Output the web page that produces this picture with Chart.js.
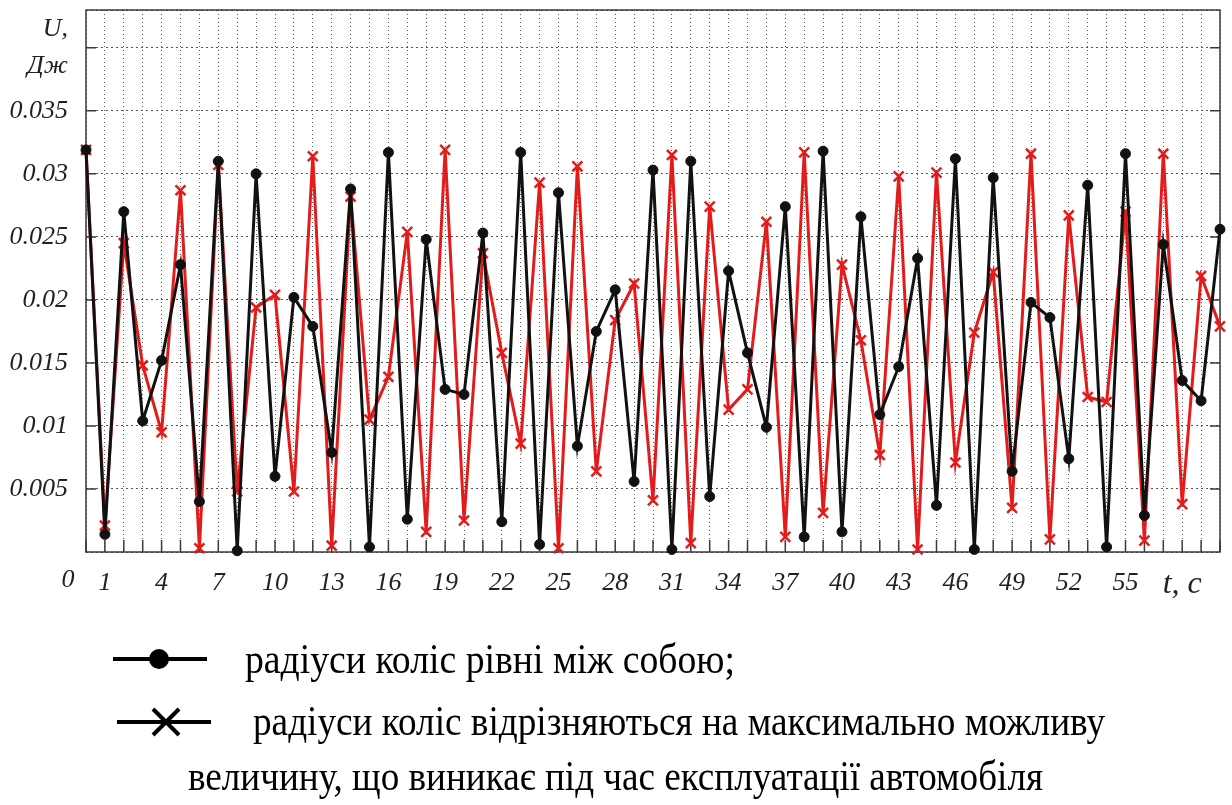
<!DOCTYPE html>
<html>
<head>
<meta charset="utf-8">
<script src="https://cdn.jsdelivr.net/npm/chart.js@4.4.1/dist/chart.umd.min.js"></script>
<style>
  html, body { margin: 0; padding: 0; background: #fff; }
  #wrap { width: 1232px; height: 805px; position: relative; }
</style>
</head>
<body>
<div id="wrap"><canvas id="myChart"></canvas></div>
<script>
// time, s
var times = [0, 1, 2, 3, 4, 5, 6, 7, 8, 9, 10, 11, 12, 13, 14, 15, 16, 17, 18, 19,
  20, 21, 22, 23, 24, 25, 26, 27, 28, 29, 30, 31, 32, 33, 34, 35, 36, 37, 38, 39,
  40, 41, 42, 43, 44, 45, 46, 47, 48, 49, 50, 51, 52, 53, 54, 55, 56, 57, 58, 59, 60];

// U, J - wheel radii equal
var equalRadii = [0.0319, 0.0014, 0.027, 0.0104, 0.0152, 0.0228, 0.004, 0.031, 0.0001, 0.030,
  0.006, 0.0202, 0.0179, 0.0079, 0.0288, 0.0004, 0.0317, 0.0026, 0.0248, 0.0129,
  0.0125, 0.0253, 0.0024, 0.0317, 0.0006, 0.0285, 0.0084, 0.0175, 0.0208, 0.0056,
  0.0303, 0.0002, 0.031, 0.0044, 0.0223, 0.0158, 0.0099, 0.0274, 0.0012, 0.0318,
  0.0016, 0.0266, 0.0109, 0.0147, 0.0233, 0.0037, 0.0312, 0.0002, 0.0297, 0.0064,
  0.0198, 0.0186, 0.0074, 0.0291, 0.0004, 0.0316, 0.0029, 0.0244, 0.0136, 0.012, 0.0256];

// U, J - wheel radii differ by the max possible value
var differentRadii = [0.0319, 0.0021, 0.0245, 0.0148, 0.0095, 0.0287, 0.0003, 0.0307, 0.0048, 0.0194,
  0.0204, 0.0048, 0.0314, 0.0005, 0.0282, 0.0105, 0.0139, 0.0254, 0.0016, 0.0319,
  0.0025, 0.0237, 0.0158, 0.0086, 0.0293, 0.0003, 0.0306, 0.0064, 0.0184, 0.0213,
  0.0041, 0.0315, 0.0007, 0.0274, 0.0113, 0.0129, 0.0262, 0.0012, 0.0317, 0.0031,
  0.0228, 0.0168, 0.0077, 0.0298, 0.0002, 0.0301, 0.0071, 0.0174, 0.0222, 0.0035,
  0.0316, 0.0010, 0.0267, 0.0123, 0.0119, 0.027, 0.0009, 0.0316, 0.0038, 0.0219, 0.0179];

var xTickValues = [1, 4, 7, 10, 13, 16, 19, 22, 25, 28, 31, 34, 37, 40, 43, 46, 49, 52, 55];
var xAxisTitle = 't, c';
var yAxisTitle = ['U,', 'Дж'];
var legendLabels = [
  'радіуси коліс рівні між собою;',
  'радіуси коліс відрізняються на максимально можливу',
  'величину, що виникає під час експлуатації автомобіля'
];

var serif = "'Liberation Serif', 'Times New Roman', serif";
var tickFont = { family: serif, size: 26, style: 'italic', lineHeight: 1.4 };

function toPoints(ys) {
  return ys.map(function (y, i) { return { x: times[i], y: y }; });
}

// frame + inward tick marks + legend
var framePlugin = {
  id: 'frame',
  beforeDatasetsDraw: function (chart) {
    var ctx = chart.ctx, a = chart.chartArea;
    var xs = chart.scales.x, ys = chart.scales.y;
    ctx.save();
    ctx.strokeStyle = '#3a3a3a';
    ctx.lineWidth = 1.5;
    ctx.strokeRect(a.left, a.top, a.right - a.left, a.bottom - a.top);
    ctx.beginPath();
    ys.ticks.forEach(function (t) {
      if (t.value <= 0 || t.value > 0.0405) return;
      var py = ys.getPixelForValue(t.value);
      ctx.moveTo(a.left, py); ctx.lineTo(a.left + 10, py);
      ctx.moveTo(a.right, py); ctx.lineTo(a.right - 10, py);
    });
    xs.ticks.forEach(function (t) {
      var px = xs.getPixelForValue(t.value);
      ctx.moveTo(px, a.bottom); ctx.lineTo(px, a.bottom - 12);
    });
    ctx.stroke();
    ctx.restore();
  },
  afterDraw: function (chart) {
    var ctx = chart.ctx, a = chart.chartArea;
    ctx.save();
    // origin label
    ctx.fillStyle = '#222';
    ctx.font = 'italic 26px ' + serif;
    ctx.textAlign = 'center';
    ctx.textBaseline = 'middle';
    ctx.fillText('0', a.left - 18, 580);

    // legend
    ctx.strokeStyle = '#000';
    ctx.fillStyle = '#000';
    ctx.lineWidth = 4;
    ctx.beginPath();
    ctx.moveTo(113, 659); ctx.lineTo(207, 659);
    ctx.stroke();
    ctx.beginPath();
    ctx.arc(159, 659, 10, 0, Math.PI * 2);
    ctx.fill();

    ctx.beginPath();
    ctx.moveTo(117, 722); ctx.lineTo(211, 722);
    ctx.moveTo(153, 709); ctx.lineTo(179, 735);
    ctx.moveTo(179, 709); ctx.lineTo(153, 735);
    ctx.stroke();

    ctx.font = '42px ' + serif;
    ctx.textAlign = 'left';
    ctx.textBaseline = 'alphabetic';
    var rows = [[245, 673, 490], [253, 735, 852], [188, 790, 855]];
    rows.forEach(function (r, i) {
      var w = ctx.measureText(legendLabels[i]).width;
      ctx.save();
      ctx.translate(r[0], r[1]);
      ctx.scale(r[2] / w, 1);
      ctx.fillText(legendLabels[i], 0, 0);
      ctx.restore();
    });
    ctx.restore();
  }
};

var ctx = document.getElementById('myChart');

var myChart = new Chart(ctx, {
  type: 'line',
  data: {
    datasets: [{
      label: legendLabels[0],
      data: toPoints(equalRadii),
      borderColor: '#111',
      backgroundColor: '#111',
      borderWidth: 3,
      pointStyle: 'circle',
      pointRadius: 5,
      pointBorderWidth: 1,
      tension: 0,
      clip: false
    }, {
      label: legendLabels[1],
      data: toPoints(differentRadii),
      borderColor: '#e31b1b',
      backgroundColor: '#e31b1b',
      borderWidth: 3,
      pointStyle: 'crossRot',
      pointRadius: 7,
      pointBorderWidth: 2.5,
      tension: 0,
      clip: false
    }]
  },
  options: {
    responsive: true,
    maintainAspectRatio: false,
    animation: false,
    layout: { padding: { top: 10, right: 12, left: 0, bottom: 203 } },
    plugins: {
      legend: { display: false },
      tooltip: { enabled: false }
    },
    scales: {
      x: {
        type: 'linear',
        min: 0,
        max: 60,
        afterFit: function (scale) {
          scale.height = 50;
          scale.paddingLeft = 0;
          scale.paddingRight = 0;
        },
        border: { display: false, dash: [1, 3] },
        grid: {
          color: '#555',
          lineWidth: 1,
          drawTicks: false
        },
        ticks: {
          stepSize: 1,
          autoSkip: false,
          maxRotation: 0,
          padding: 13,
          color: '#222',
          font: function (c) {
            if (c.tick && c.tick.value === 58) return { family: serif, size: 32, style: 'italic' };
            return tickFont;
          },
          callback: function (v) {
            if (v === 58) return xAxisTitle;
            return xTickValues.indexOf(v) >= 0 ? String(v) : '';
          }
        }
      },
      y: {
        min: 0,
        max: 0.043,
        afterFit: function (scale) {
          scale.width = 86;
          scale.paddingTop = 0;
          scale.paddingBottom = 0;
        },
        border: { display: false, dash: [2, 3] },
        grid: {
          color: '#555',
          lineWidth: 1,
          drawTicks: false
        },
        ticks: {
          stepSize: 0.005,
          autoSkip: false,
          padding: 18,
          color: '#222',
          font: tickFont,
          callback: function (v) {
            var m = Math.round(v * 1000);
            if (m === 40) return yAxisTitle;
            if (m <= 0 || m % 5 !== 0 || m > 40) return '';
            return String(m / 1000);
          }
        }
      }
    }
  },
  plugins: [framePlugin]
});
</script>
</body>
</html>
